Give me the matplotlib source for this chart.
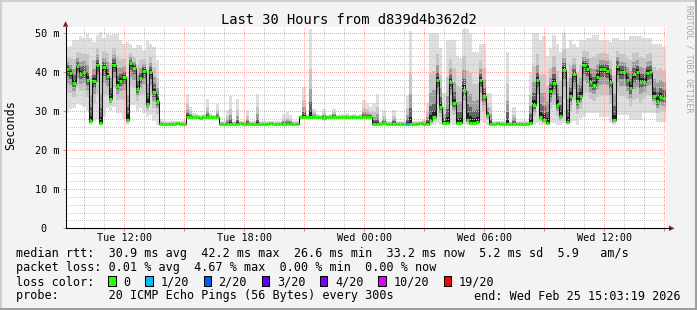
import datetime as dt
import numpy as np
import matplotlib
matplotlib.use('Agg')
import matplotlib.pyplot as plt
import matplotlib.dates as mdates
from matplotlib.ticker import FuncFormatter, FixedLocator, FixedFormatter, MultipleLocator
from matplotlib.patches import Polygon, Rectangle
from matplotlib.lines import Line2D

plt.rcParams['font.family'] = ['DejaVu Sans Mono']

# ---------------- data ----------------
title = 'Last 30 Hours from d839d4b362d2'
start = dt.datetime(2026, 2, 24, 9, 3, 19)
end_label = 'end: Wed Feb 25 15:03:19 2026'
step_minutes = 10

median_ms = [
    40.8, 39.6, 37.2, 41.4, 39.5, 39.9, 38.0, 27.3, 37.6, 41.8,
    26.9, 41.1, 39.0, 33.1, 41.8, 36.7, 37.7, 38.6, 27.7, 42.2,
    41.0, 35.6, 38.3, 40.3, 31.8, 40.0, 34.9, 32.6,
    26.7, 26.7, 26.6, 26.7, 26.7, 26.8, 26.7, 26.7,
    28.4, 28.5, 28.4, 28.4, 28.3, 28.4, 28.5, 28.4, 28.4, 28.4,
    26.7, 26.7, 26.6, 26.7, 26.7, 26.7, 26.8, 26.7, 26.7, 26.7,
    26.6, 26.7, 26.7, 26.7, 26.7, 26.8, 26.7, 26.7, 26.7, 26.6,
    26.7, 26.7, 26.7, 26.7,
    28.4, 28.4, 28.5, 28.4, 28.4, 28.4, 28.4, 28.3, 28.4, 28.4,
    28.5, 28.4, 28.4, 28.4, 28.4, 28.4, 28.5, 28.4, 28.4, 28.4,
    28.4, 28.4,
    26.7, 26.7, 26.7, 26.8, 26.7, 26.7, 26.7, 26.6, 26.7, 26.7,
    26.7, 26.7, 26.7, 26.7, 26.8, 26.7, 26.7,
    27.5, 28.5, 37.8, 31.0, 26.8, 27.0, 37.3, 32.0, 26.8, 26.9,
    35.4, 27.7, 27.0, 26.8, 27.2, 37.9, 33.7, 29.0,
    26.7, 26.7, 26.8, 26.7, 26.7, 26.7, 26.6, 26.7, 26.7, 26.7,
    26.7, 26.7,
    27.0, 31.4, 37.8, 28.4, 27.6, 26.9, 35.0, 37.2, 31.6, 28.7,
    40.5, 27.1, 33.8, 39.5, 32.4, 33.9, 41.8, 40.8, 37.5, 36.6,
    38.6, 40.6, 40.7, 40.3, 37.5, 27.6, 41.4, 40.0, 40.0, 38.0,
    35.8, 39.3, 40.0, 37.5, 37.5, 39.7, 39.9, 33.9, 32.4, 33.5,
    33.2,
]

smoke_lo_ms = [
    29.4, 30.5, 30.7, 31.9, 31.5, 31.1, 30.0, 26.4, 27.5, 28.0,
    26.4, 28.5, 30.7, 30.0, 31.1, 29.4, 29.4, 28.0, 26.4, 31.5,
    31.5, 30.0, 30.7, 29.4, 28.5, 29.0, 27.5, 26.5,
    26.3, 26.3, 26.2, 26.3, 26.3, 26.4, 26.3, 26.3,
    28.0, 28.1, 28.0, 28.0, 27.9, 28.0, 28.1, 28.0, 28.0, 28.0,
    26.3, 26.3, 26.2, 26.3, 26.3, 26.3, 26.4, 26.3, 26.3, 26.3,
    26.2, 26.3, 26.3, 26.3, 26.3, 26.4, 26.3, 26.3, 26.3, 26.2,
    26.3, 26.3, 26.3, 26.3,
    28.0, 28.0, 28.1, 28.0, 28.0, 28.0, 28.0, 27.9, 28.0, 28.0,
    28.1, 28.0, 28.0, 28.0, 28.0, 28.0, 28.1, 28.0, 28.0, 28.0,
    28.0, 28.0,
    26.3, 26.3, 26.3, 26.4, 26.3, 26.3, 26.3, 26.2, 26.3, 26.3,
    26.3, 26.3, 26.3, 26.3, 26.4, 26.3, 26.3,
    26.3, 26.4, 27.0, 26.5, 26.3, 26.4, 26.8, 26.5, 26.3, 26.3,
    26.6, 26.3, 26.3, 26.3, 26.4, 27.5, 27.0, 26.5,
    26.3, 26.3, 26.4, 26.3, 26.3, 26.3, 26.2, 26.3, 26.3, 26.3,
    26.3, 26.3,
    26.3, 26.4, 27.0, 26.4, 26.3, 26.3, 26.8, 27.0, 26.5, 26.4,
    27.0, 26.3, 26.8, 27.5, 26.4, 27.9, 28.5, 29.4, 29.4, 29.4,
    29.4, 28.5, 28.5, 28.5, 27.0, 26.4, 28.9, 28.9, 28.9, 28.9,
    27.6, 27.6, 27.6, 27.6, 29.4, 29.4, 29.4, 29.4, 27.2, 27.2,
    27.2,
]

smoke_hi_ms = [
    46.3, 46.5, 48.0, 48.0, 49.0, 48.5, 49.7, 48.5, 47.5, 49.5,
    50.1, 48.5, 49.7, 49.5, 49.7, 49.7, 48.0, 47.0, 47.5, 47.1,
    46.0, 46.8, 46.8, 45.5, 48.0, 47.0, 46.3, 43.0,
    28.0, 27.3, 27.3, 27.4, 27.3, 27.3, 27.5, 27.3,
    34.4, 31.0, 29.5, 29.3, 29.0, 29.2, 33.0, 29.5, 29.0, 31.8,
    27.3, 27.4, 30.3, 33.7, 27.5, 33.0, 27.4, 27.3, 30.3, 27.4,
    27.5, 34.4, 27.3, 27.4, 27.3, 27.5, 27.3, 27.4, 27.3, 29.2,
    29.6, 29.0, 27.4, 27.3,
    29.0, 36.2, 29.2, 50.9, 30.6, 29.2, 29.0, 30.5, 29.0, 29.2,
    30.5, 29.0, 29.1, 29.3, 29.4, 29.0, 29.1, 29.0, 29.2, 32.8,
    32.0, 31.0,
    32.0, 34.4, 27.4, 30.3, 27.3, 27.5, 30.3, 27.4, 27.3, 27.4,
    33.9, 50.5, 27.4, 27.3, 27.5, 28.0, 32.0,
    49.8, 49.8, 49.8, 46.0, 34.6, 48.1, 48.1, 48.1, 44.0, 43.5,
    51.0, 51.0, 50.0, 45.0, 45.0, 47.0, 47.0, 34.5,
    34.5, 27.4, 27.3, 27.5, 27.3, 45.0, 27.5, 31.0, 27.3, 27.4,
    27.3, 27.5,
    40.0, 49.8, 49.8, 48.0, 49.0, 44.0, 46.0, 49.5, 47.0, 45.0,
    50.0, 46.0, 48.0, 47.0, 46.3, 48.0, 48.0, 48.6, 48.6, 49.4,
    49.4, 48.0, 48.0, 48.0, 47.5, 48.6, 48.6, 48.0, 48.0, 48.0,
    49.1, 49.1, 49.1, 49.1, 48.6, 48.6, 48.6, 47.2, 47.2, 47.2,
    46.3,
]

loss_pings = [
    0, 0, 0, 0, 0, 0, 0, 0, 0, 0, 0, 0, 0, 0, 0, 0, 0, 0, 0, 0,
    0, 0, 0, 0, 0, 0, 0, 0, 0, 0, 0, 0, 0, 0, 0, 0, 0, 0, 0, 0,
    0, 0, 0, 0, 0, 0, 0, 0, 0, 0, 0, 0, 0, 0, 0, 0, 0, 0, 0, 0,
    0, 0, 0, 0, 0, 0, 0, 0, 0, 0, 0, 0, 0, 0, 0, 0, 0, 0, 0, 0,
    0, 0, 0, 0, 0, 0, 0, 0, 0, 0, 0, 0, 0, 0, 0, 0, 0, 0, 0, 0,
    0, 0, 1, 0, 0, 0, 0, 0, 0, 0, 0, 0, 0, 0, 0, 0, 0, 0, 0, 0,
    0, 0, 0, 0, 0, 0, 0, 0, 0, 0, 0, 0, 0, 0, 0, 0, 0, 0, 0, 0,
    0, 0, 0, 0, 0, 0, 0, 0, 0, 0, 0, 0, 0, 0, 0, 0, 0, 0, 0, 0,
    0, 0, 0, 0, 0, 0, 0, 0, 0, 0, 0, 0, 0, 0, 0, 0, 0, 0, 0, 0,
]

y_ticks = [0, 10, 20, 30, 40, 50]
y_tick_labels = ['0  ', '10 m', '20 m', '30 m', '40 m', '50 m']

loss_levels = [0, 1, 2, 3, 4, 10, 19]
loss_labels = ['0', '1/20', '2/20', '3/20', '4/20', '10/20', '19/20']
loss_colors = ['#26ff00', '#00b8ff', '#0059ff', '#5e00ff', '#7e00ff', '#dd00ff', '#ff0000']

rtt_avg, rtt_max, rtt_min, rtt_now, rtt_sd, am_s = 30.9, 42.2, 26.6, 33.2, 5.2, 5.9
loss_avg, loss_max, loss_min, loss_now = 0.01, 4.67, 0.00, 0.00
probe_text = '20 ICMP Echo Pings (56 Bytes) every 300s'

# ---------------- figure ----------------
W, H = 697, 310
fig = plt.figure(figsize=(W / 100, H / 100), dpi=100, facecolor='#f3f3f3')

def fx(x):
    return x / W

def fy(y):
    return 1 - y / H

X0, X1, Y0, Y1 = 65.6, 665.6, 26.7, 228.3
ax = fig.add_axes([fx(X0), fy(Y1), (X1 - X0) / W, (Y1 - Y0) / H])
ax.set_facecolor('white')

n = len(median_ms)
edges = [start + dt.timedelta(minutes=step_minutes * i) for i in range(n + 1)]
ex = mdates.date2num(edges)
med = np.array(median_ms)
lo = np.array(smoke_lo_ms)
hi = np.array(smoke_hi_ms)

# smoke
fracs = [1.0, 0.55, 0.32, 0.17, 0.07]
greys = ['#dedede', '#c6c6c6', '#9e9e9e', '#646464', '#222222']
for f, c in zip(fracs, greys):
    b = med - f * (med - lo)
    t = med + f * (hi - med)
    ax.fill_between(ex, np.append(b, b[-1]), np.append(t, t[-1]), step='post',
                    color=c, lw=0, zorder=1, antialiased=False)

# median line
ax.step(ex, np.append(med, med[-1]), where='post', color='#111111', lw=0.75, zorder=3)

def loss_color(cnt):
    col = loss_colors[0]
    for lv, c in zip(loss_levels, loss_colors):
        if cnt >= lv:
            col = c
    return col

cols = [loss_color(c) for c in loss_pings]
ax.hlines(med, ex[:-1], ex[1:], colors=cols, lw=2.3, zorder=4)

ax.set_xlim(ex[0], ex[-1])
ax.set_ylim(0, 51.5)

# axes / grid
ax.xaxis.set_major_locator(mdates.HourLocator(byhour=range(0, 24, 3)))
ax.xaxis.set_minor_locator(mdates.HourLocator())

def xfmt(v, p):
    d = mdates.num2date(v)
    return d.strftime('%a %H:%M') if d.hour % 6 == 0 else ''

ax.xaxis.set_major_formatter(FuncFormatter(xfmt))
ax.yaxis.set_major_locator(FixedLocator(y_ticks))
ax.yaxis.set_major_formatter(FixedFormatter(y_tick_labels))
ax.yaxis.set_minor_locator(MultipleLocator(2))

ax.set_axisbelow(False)
ax.grid(which='minor', color='#c8c8c8', ls=(0, (1, 2)), lw=0.72, antialiased=False)
ax.grid(which='major', color='#f4a4a4', ls=(0, (1, 2)), lw=0.72, antialiased=False)

for s in ['top', 'right']:
    ax.spines[s].set_visible(False)
for s in ['left', 'bottom']:
    ax.spines[s].set_linewidth(0.75)
    ax.spines[s].set_zorder(6)

ax.tick_params(axis='both', which='major', labelsize=7.3, length=2.2, width=0.72, color='#e08080')
ax.tick_params(axis='both', which='minor', length=1.5, width=0.72, color='#bbbbbb')
ax.tick_params(axis='x', which='major', pad=1.3)
ax.tick_params(axis='y', which='major', pad=2.0)
ax.tick_params(axis='y', which='minor', length=0)

# extended x axis line + arrows
fig.add_artist(Line2D([fx(X0), fx(669.5)], [fy(Y1), fy(Y1)], color='black', lw=0.75))
arrow_col = '#8b1a1a'
fig.add_artist(Polygon([[fx(X0 - 2.7), fy(Y0)], [fx(X0 + 2.7), fy(Y0)], [fx(X0), fy(Y0 - 5.5)]],
                       closed=True, color=arrow_col, lw=0))
fig.add_artist(Polygon([[fx(669), fy(Y1 - 2.7)], [fx(669), fy(Y1 + 2.7)], [fx(674.5), fy(Y1)]],
                       closed=True, color=arrow_col, lw=0))

# title, labels
fig.text(fx(348.5), fy(24), title, ha='center', va='baseline', fontsize=9.9)
fig.text(fx(10.8), fy(125.5), 'Seconds', rotation=90, ha='center', va='center', fontsize=8.5)
fig.text(fx(688.5), fy(5), 'RRDTOOL / TOBI OETIKER', rotation=270, ha='center', va='top',
         fontsize=5.9, color='#a8a8a8')

# legend
LFS = 8.5
cw = LFS * 0.602 * 100 / 72
lx = 16
line1 = (f'median rtt:  {rtt_avg:.1f} ms avg  {rtt_max:.1f} ms max  {rtt_min:.1f} ms min  '
         f'{rtt_now:.1f} ms now  {rtt_sd:.1f} ms sd  {am_s:.1f}   am/s')
line2 = (f'packet loss: {loss_avg:.2f} % avg  {loss_max:.2f} % max  {loss_min:.2f} % min  '
         f'{loss_now:.2f} % now')
fig.text(fx(lx), fy(257.5), line1, ha='left', va='baseline', fontsize=LFS)
fig.text(fx(lx), fy(271.5), line2, ha='left', va='baseline', fontsize=LFS)
fig.text(fx(lx), fy(285.5), 'loss color:', ha='left', va='baseline', fontsize=LFS)
bx = lx + 13 * cw
for lab, c in zip(loss_labels, loss_colors):
    fig.add_artist(Rectangle((fx(bx), fy(286)), 7.5 / W, 10 / H, facecolor=c,
                             edgecolor='black', lw=0.75))
    fig.text(fx(bx + 15), fy(285.5), lab, ha='left', va='baseline', fontsize=LFS)
    bx = bx + 15 + len(lab) * cw + 14.8
fig.text(fx(lx), fy(299.5), 'probe:       ' + probe_text, ha='left', va='baseline', fontsize=LFS)
fig.text(fx(474), fy(299.5), end_label, ha='left', va='baseline', fontsize=LFS)

# frame
fig.add_artist(Line2D([0, 1], [fy(0.5), fy(0.5)], color='#d0d0d0', lw=1.5))
fig.add_artist(Line2D([fx(0.5), fx(0.5)], [0, 1], color='#d0d0d0', lw=1.5))
fig.add_artist(Line2D([0, 1], [fy(309), fy(309)], color='#9e9e9e', lw=1.5))
fig.add_artist(Line2D([fx(696), fx(696)], [0, 1], color='#9e9e9e', lw=1.5))

fig.savefig('out.png', dpi=100, facecolor=fig.get_facecolor())
